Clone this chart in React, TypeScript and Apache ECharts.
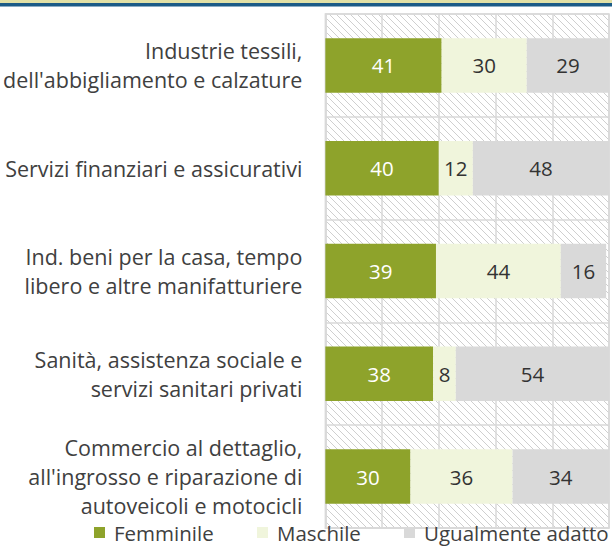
import React, { useEffect, useRef } from "react";
import * as echarts from "echarts";

const categories = [
  "Industrie tessili,\ndell'abbigliamento e calzature",
  "Servizi finanziari e assicurativi",
  "Ind. beni per la casa, tempo\nlibero e altre manifatturiere",
  "Sanità, assistenza sociale e\nservizi sanitari privati",
  "Commercio al dettaglio,\nall'ingrosso e riparazione di\nautoveicoli e motocicli",
];
const femminile = [41, 40, 39, 38, 30];
const maschile = [30, 12, 44, 8, 36];
const ugualmente = [29, 48, 16, 54, 34];
const seriesNames = ["Femminile", "Maschile", "Ugualmente adatto"];
const xMin = 0;
const xMax = 100;
const xInterval = 20;

const COLORS = ["#8ea32b", "#f0f5dc", "#d9d9d9"];
const LABEL_COLORS = ["#ffffff", "#333333", "#333333"];
const FONT = "'Open Sans', sans-serif";
const GRID_LINE = "#d9d9d9";

function makeHatch(): HTMLCanvasElement {
  const s = 7;
  const c = document.createElement("canvas");
  c.width = s;
  c.height = s;
  const ctx = c.getContext("2d")!;
  ctx.fillStyle = "#ffffff";
  ctx.fillRect(0, 0, s, s);
  ctx.strokeStyle = "#cfcfcf";
  ctx.lineWidth = 1;
  for (const k of [-s, 0, s]) {
    ctx.beginPath();
    ctx.moveTo(k, 0);
    ctx.lineTo(k + s, s);
    ctx.stroke();
  }
  return c;
}

export default function App() {
  const ref = useRef<HTMLDivElement>(null);
  useEffect(() => {
    if (!ref.current) return;
    const chart = echarts.init(ref.current, undefined, { renderer: "svg" });
    const hatch = makeHatch();
    const data = [femminile, maschile, ugualmente];
    const legendLefts = [94, 257, 404];
    chart.setOption({
      animation: false,
      textStyle: { fontFamily: FONT },
      graphic: [
        { type: "rect", left: 0, top: 0, shape: { width: 612, height: 3 }, style: { fill: "#e2e1a6" }, z: 10 },
        { type: "rect", left: 0, top: 3, shape: { width: 612, height: 3.5 }, style: { fill: "#1b5b87" }, z: 10 },
      ],
      grid: {
        left: 324,
        right: 3,
        top: 14,
        bottom: 18,
        show: true,
        backgroundColor: { image: hatch, repeat: "repeat", imageWidth: 7, imageHeight: 7 },
        borderColor: GRID_LINE,
        borderWidth: 1.5,
      },
      legend: seriesNames.map((n, i) => ({
        data: [n],
        left: legendLefts[i],
        top: 522,
        padding: 0,
        itemWidth: 11,
        itemHeight: 11,
        icon: "rect",
        itemStyle: { borderWidth: 0 },
        textStyle: {
          fontSize: 20.5,
          lineHeight: 20,
          color: "#404040",
          fontFamily: FONT,
          padding: [0, 0, 0, 4],
        },
      })),
      xAxis: {
        type: "value",
        min: xMin,
        max: xMax,
        interval: xInterval,
        axisLabel: { show: false },
        axisTick: { show: false },
        axisLine: { show: true, lineStyle: { color: GRID_LINE, width: 1.5 } },
        splitLine: { show: true, lineStyle: { color: GRID_LINE, width: 1.5 } },
      },
      yAxis: {
        type: "category",
        data: categories,
        inverse: true,
        axisTick: { show: false },
        axisLine: { show: true, lineStyle: { color: GRID_LINE, width: 1.5 } },
        splitLine: { show: true, interval: 0, lineStyle: { color: GRID_LINE, width: 1.5 } },
        axisLabel: {
          interval: 0,
          margin: 23,
          fontSize: 21.5,
          lineHeight: 29,
          color: "#404040",
          fontFamily: FONT,
          align: "right",
        },
      },
      series: seriesNames.map((n, i) => ({
        name: n,
        type: "bar",
        stack: "total",
        barWidth: "53%",
        data: data[i],
        itemStyle: { color: COLORS[i] },
        label: {
          show: true,
          position: "inside",
          color: LABEL_COLORS[i],
          fontSize: 20.5,
          fontFamily: FONT,
        },
      })),
    });
    return () => chart.dispose();
  }, []);
  return (
    <div
      ref={ref}
      style={{ position: "fixed", left: 0, top: 0, width: 612, height: 546, background: "#ffffff" }}
    />
  );
}
